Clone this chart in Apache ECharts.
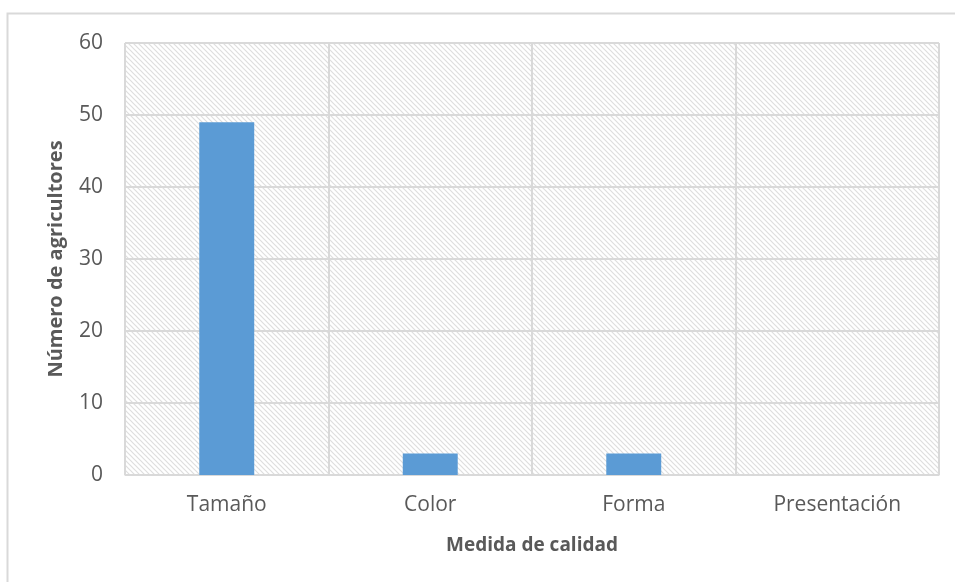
<!DOCTYPE html>
<html>
<head>
<meta charset="utf-8">
<script src="https://cdn.jsdelivr.net/npm/echarts@6/dist/echarts.min.js"></script>
<style>
  html, body { margin: 0; padding: 0; background: #fff; }
  #chart { width: 955px; height: 582px; }
</style>
</head>
<body>
<div id="chart"></div>
<script>
// datos
const categories = ["Tamaño", "Color", "Forma", "Presentación"];
const agricultores = [49, 3, 3, 0];

// trama diagonal del fondo
function hatchPattern () {
  const n = 5;
  const c = document.createElement("canvas");
  c.width = n;
  c.height = n;
  const ctx = c.getContext("2d");
  ctx.strokeStyle = "#dedede";
  ctx.lineWidth = 1.2;
  ctx.beginPath();
  ctx.moveTo(-1, -1);
  ctx.lineTo(n + 1, n + 1);
  ctx.moveTo(-1, n - 1);
  ctx.lineTo(1, n + 1);
  ctx.moveTo(n - 1, -1);
  ctx.lineTo(n + 1, 1);
  ctx.stroke();
  return { image: c, repeat: "repeat" };
}

const chart = echarts.init(document.getElementById("chart"));
const font = "'Open Sans', 'Noto Sans', sans-serif";

chart.setOption({
  animation: false,
  textStyle: { fontFamily: font },
  graphic: [
    {
      type: "rect",
      shape: { x: 7.5, y: 13.5, width: 1000, height: 700 },
      style: { fill: "none", stroke: "#d9d9d9", lineWidth: 2 },
      silent: true
    }
  ],
  grid: {
    left: 125,
    right: 16,
    top: 43,
    bottom: 107,
    show: true,
    backgroundColor: hatchPattern(),
    borderColor: "#d9d9d9",
    borderWidth: 1
  },
  xAxis: {
    type: "category",
    data: categories,
    name: "Medida de calidad",
    nameLocation: "middle",
    nameGap: 61,
    nameTextStyle: { fontSize: 19, fontWeight: "bold", color: "#595959", fontFamily: font },
    axisLine: { show: true, lineStyle: { color: "#d9d9d9", width: 1 } },
    axisTick: { show: false },
    axisLabel: { fontSize: 21, color: "#595959", margin: 20, fontFamily: font },
    splitLine: { show: true, interval: 0, lineStyle: { color: "#d9d9d9", width: 2 } }
  },
  yAxis: {
    type: "value",
    min: 0,
    max: 60,
    interval: 10,
    name: "Número de agricultores",
    nameLocation: "middle",
    nameGap: 59,
    nameTextStyle: { fontSize: 20, fontWeight: "bold", color: "#595959", fontFamily: font },
    axisLine: { show: false },
    axisTick: { show: false },
    axisLabel: { fontSize: 21, color: "#595959", margin: 22, fontFamily: font },
    splitLine: { show: true, lineStyle: { color: "#d9d9d9", width: 2 } }
  },
  series: [
    {
      type: "bar",
      data: agricultores,
      barWidth: "27%",
      itemStyle: { color: "#5b9bd5" }
    }
  ]
});
</script>
</body>
</html>
